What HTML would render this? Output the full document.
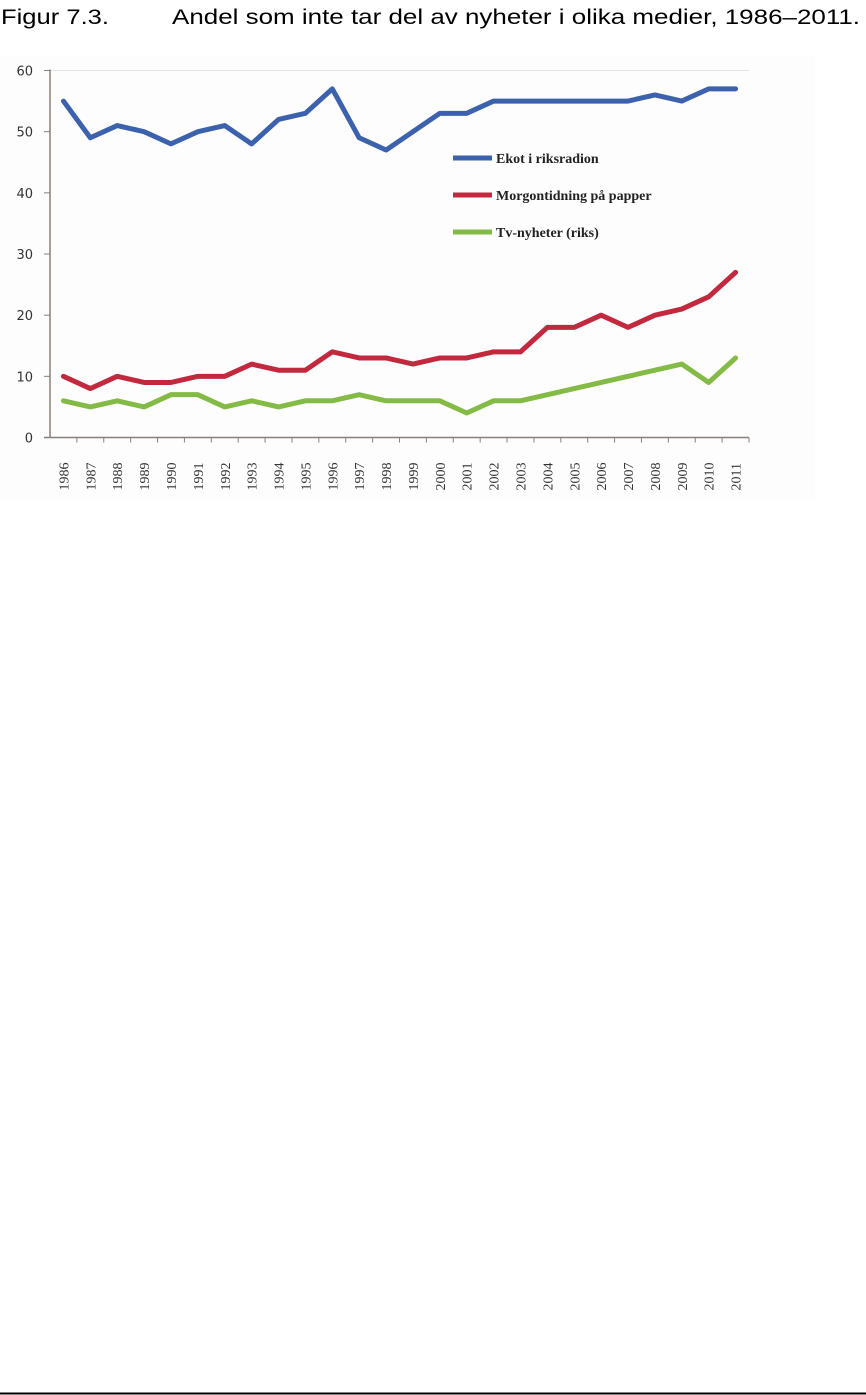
<!DOCTYPE html>
<html><head><meta charset="utf-8"><style>
html,body{margin:0;padding:0;background:#fff;width:866px;height:1395px;overflow:hidden}
svg{display:block}
</style></head><body>
<svg id="chart" width="866" height="1395" xmlns="http://www.w3.org/2000/svg">
<text x="1" y="24" font-family="Liberation Sans, sans-serif" font-size="21" textLength="108" lengthAdjust="spacingAndGlyphs">Figur 7.3.</text>
<text x="172" y="24" font-family="Liberation Sans, sans-serif" font-size="21" textLength="688" lengthAdjust="spacingAndGlyphs">Andel som inte tar del av nyheter i olika medier, 1986–2011.</text>
<rect x="0" y="55" width="815" height="445" fill="#fdfdfd"/>
<g id="axes"></g>
<g id="series"></g>
<g id="legend"></g>
<line x1="0" y1="1393.5" x2="866" y2="1393.5" stroke="#000" stroke-width="2"/>
</svg>
<script>
const years=[1986,1987,1988,1989,1990,1991,1992,1993,1994,1995,1996,1997,1998,1999,2000,2001,2002,2003,2004,2005,2006,2007,2008,2009,2010,2011];
const ekot=[55,49,51,50,48,50,51,48,52,53,57,49,47,50,53,53,55,55,55,55,55,55,56,55,57,57];
const morgon=[10,8,10,9,9,10,10,12,11,11,14,13,13,12,13,13,14,14,18,18,20,18,20,21,23,27];
const tv=[6,5,6,5,7,7,5,6,5,6,6,7,6,6,6,4,6,6,7,8,9,10,11,12,9,13];
const yTicks=[0,10,20,30,40,50,60];
const seriesNames=["Ekot i riksradion","Morgontidning på papper","Tv-nyheter (riks)"];

const NS="http://www.w3.org/2000/svg";
const x0=50,x1=749,yBase=437.5,yTop=70.5;
const step=(x1-x0)/years.length;
const X=i=>x0+step*(i+0.5);
const Y=v=>yBase-(v/60)*(yBase-yTop);
function mk(tag,attrs,parent){const e=document.createElementNS(NS,tag);for(const k in attrs)e.setAttribute(k,attrs[k]);parent.appendChild(e);return e;}
const axes=document.getElementById('axes');
let t=mk('line',{x1:x0,y1:yTop,x2:x1,y2:yTop,stroke:'#e6e6e6','stroke-width':1},axes);

let ya=mk('line',{x1:x0,y1:yTop-1,x2:x0,y2:yBase,stroke:'#8a7f7a','stroke-width':1.5},axes);

let xa=mk('line',{x1:x0-6,y1:yBase,x2:x1,y2:yBase,stroke:'#8a7f7a','stroke-width':1.5},axes);

yTicks.forEach(v=>{
  const tk=mk('line',{x1:x0-6,y1:Y(v),x2:x0,y2:Y(v),stroke:'#8a7f7a','stroke-width':1},axes);
  
  const l=mk('text',{x:33,y:Y(v)+5,'text-anchor':'end','font-family':'DejaVu Sans, sans-serif','font-size':13,fill:'#333'},axes);
  l.textContent=v;
  
});
years.forEach((yr,i)=>{
  const bx=x0+step*(i+1);
  const tk=mk('line',{x1:bx,y1:yBase,x2:bx,y2:yBase+5,stroke:'#8a7f7a','stroke-width':1},axes);
  
  const l=mk('text',{transform:`translate(${X(i)+5},${yBase+53}) rotate(-90)`,'font-family':'Liberation Serif, serif','font-size':14,fill:'#333'},axes);
  l.textContent=yr;
  
});
const sg=document.getElementById('series');
const colors=['#3c62ad','#c2283e','#84bb47'];
[ekot,morgon,tv].forEach((arr,s)=>{
  const p=mk('polyline',{points:arr.map((v,i)=>X(i)+','+Y(v)).join(' '),fill:'none',stroke:colors[s],'stroke-width':5,'stroke-linejoin':'round','stroke-linecap':'round'},sg);
  
});
const lg=document.getElementById('legend');
seriesNames.forEach((n,s)=>{
  const y=158+s*37;
  const ln=mk('line',{x1:453,y1:y,x2:492,y2:y,stroke:colors[s],'stroke-width':5},lg);
  
  const tx=mk('text',{x:496,y:y+5,'font-family':'Liberation Serif, serif','font-size':14,'font-weight':'bold',fill:'#222'},lg);
  tx.textContent=n;
  
});
</script>
</body></html>
